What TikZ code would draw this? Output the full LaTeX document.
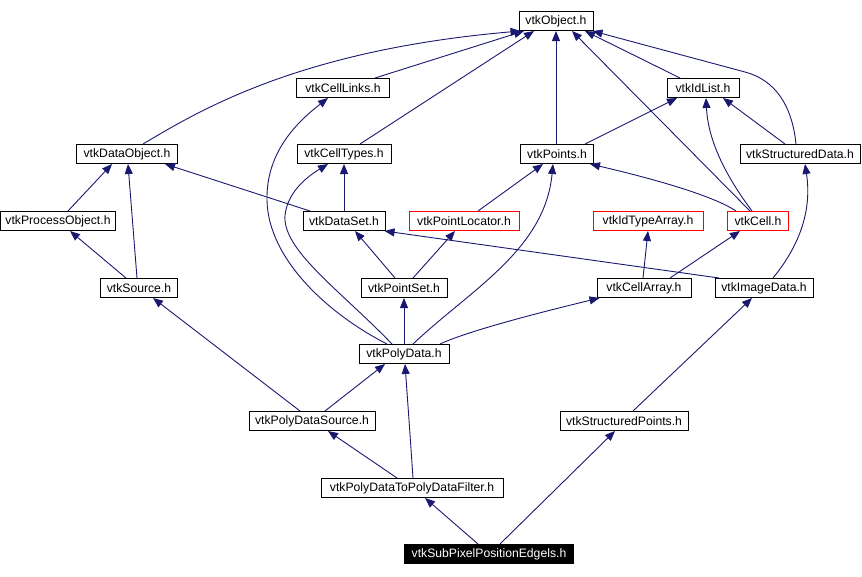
\documentclass[tikz,border=0pt]{standalone}
\usepackage{fontspec}
\setmainfont{Liberation Sans}
\usetikzlibrary{arrows.meta}
\definecolor{edgecol}{HTML}{191970}
\begin{document}
\begin{tikzpicture}[x=1pt,y=-1pt,
  box/.style={draw=black, line width=1pt, minimum height=19pt, inner sep=0pt, font=\fontsize{12.2}{14}\selectfont, anchor=center},
  redbox/.style={box, draw=red},
  dep/.style={draw=edgecol, line width=0.9pt, -{Triangle[length=10pt,width=8pt]}}
]
\useasboundingbox (0,0) rectangle (862,576);
\node[box, minimum width=74pt]  (obj)          at (556,21)  {vtkObject.h};
\node[box, minimum width=93pt]  (celllinks)    at (343,88)  {vtkCellLinks.h};
\node[box, minimum width=72pt]  (idlist)       at (703,88)  {vtkIdList.h};
\node[box, minimum width=101pt] (dataobject)   at (127,154) {vtkDataObject.h};
\node[box, minimum width=94pt]  (celltypes)    at (344,154) {vtkCellTypes.h};
\node[box, minimum width=73pt]  (points)       at (557,154) {vtkPoints.h};
\node[box, minimum width=120pt] (structdata)   at (800,154) {vtkStructuredData.h};
\node[box, minimum width=115pt] (processobject) at (58,221) {vtkProcessObject.h};
\node[box, minimum width=82pt]  (dataset)      at (344,221) {vtkDataSet.h};
\node[redbox, minimum width=110pt] (pointlocator) at (464,221) {vtkPointLocator.h};
\node[redbox, minimum width=110pt] (idtypearray)  at (648,221) {vtkIdTypeArray.h};
\node[redbox, minimum width=61pt]  (cell)         at (758,221) {vtkCell.h};
\node[box, minimum width=77pt]  (source)       at (139,288) {vtkSource.h};
\node[box, minimum width=86pt]  (pointset)     at (404,288) {vtkPointSet.h};
\node[box, minimum width=94pt]  (cellarray)    at (644,288) {vtkCellArray.h};
\node[box, minimum width=98pt]  (imagedata)    at (764,288) {vtkImageData.h};
\node[box, minimum width=90pt]  (polydata)     at (404,354) {vtkPolyData.h};
\node[box, minimum width=126pt] (pdsource)     at (312,421) {vtkPolyDataSource.h};
\node[box, minimum width=128pt] (structpoints) at (624,421) {vtkStructuredPoints.h};
\node[box, minimum width=182pt] (pdtpdf)       at (412,488) {vtkPolyDataToPolyDataFilter.h};
\node[box, minimum width=169pt, fill=black, text=white] (subpixel) at (489,554) {vtkSubPixelPositionEdgels.h};

% edges (child -> parent)
\draw[dep] ([xshift=16pt]dataobject.north) .. controls (200,110) and (300,50) .. ([xshift=2pt]obj.south west);
\draw[dep] ([xshift=32pt]celllinks.north) -- ([xshift=-32pt]obj.south);
\draw[dep] ([xshift=16pt]celltypes.north) -- ([xshift=-22pt]obj.south);
\draw[dep] ([xshift=-1pt]points.north) -- (obj.south);
\draw[dep] ([xshift=-23pt]idlist.north) -- ([xshift=29pt]obj.south);
\draw[dep] ([xshift=-8pt]cell.north) -- ([xshift=16pt]obj.south);
\draw[dep] ([xshift=-4pt]structdata.north) .. controls (792,105) and (775,80) .. (745,72) -- ([xshift=-1pt]obj.south east);
\draw[dep] ([xshift=-15pt]structdata.north) -- ([xshift=20pt]idlist.south);
\draw[dep] ([xshift=-6pt]cell.north) .. controls (725,175) and (708,140) .. ([xshift=3pt]idlist.south);
\draw[dep] ([xshift=28pt]points.north) -- ([xshift=-26pt]idlist.south);
\draw[dep] ([xshift=-22pt]cell.north) .. controls (712,195) and (650,178) .. ([xshift=33pt]points.south);
\draw[dep] ([xshift=10pt]processobject.north) -- ([xshift=-15pt]dataobject.south);
\draw[dep] ([xshift=-2pt]source.north) -- ([xshift=1pt]dataobject.south);
\draw[dep] ([xshift=-13pt]source.north) -- ([xshift=12pt]processobject.south);
\draw[dep] ([xshift=-34pt]dataset.north) -- ([xshift=38pt]dataobject.south);
\draw[dep] (dataset.north) -- (celltypes.south);
\draw[dep] ([xshift=-9pt]pointset.north) -- ([xshift=11pt]dataset.south);
\draw[dep] ([xshift=9pt]pointset.north) -- ([xshift=-9pt]pointlocator.south);
\draw[dep] ([xshift=14pt]pointlocator.north) -- ([xshift=-14pt]points.south);
\draw[dep] ([xshift=-45pt]imagedata.north) -- ([xshift=-1pt]dataset.south east);
\draw[dep] ([xshift=9pt]imagedata.north) .. controls (800,245) and (812,210) .. ([xshift=5pt]structdata.south);
\draw[dep] ([xshift=-1pt]cellarray.north) -- (idtypearray.south);
\draw[dep] ([xshift=26pt]cellarray.north) -- ([xshift=-18pt]cell.south);
\draw[dep] ([xshift=-17pt]polydata.north) .. controls (330,315) and (268,260) .. (267,200) .. controls (266,150) and (300,120) .. ([xshift=-15pt]celllinks.south);
\draw[dep] ([xshift=-12pt]polydata.north) .. controls (340,290) and (282,250) .. (285,215) .. controls (288,190) and (310,175) .. ([xshift=-16pt]celltypes.south);
\draw[dep] (polydata.north) -- (pointset.south);
\draw[dep] ([xshift=9pt]polydata.north) .. controls (470,290) and (545,250) .. ([xshift=-4pt]points.south);
\draw[dep] ([xshift=36pt]polydata.north) .. controls (470,330) and (550,310) .. ([xshift=3pt]cellarray.south west);
\draw[dep] ([xshift=13pt]pdsource.north) -- ([xshift=-19pt]polydata.south);
\draw[dep] ([xshift=-12pt]pdsource.north) -- ([xshift=14pt]source.south);
\draw[dep] ([xshift=-15pt]pdtpdf.north) -- ([xshift=16pt]pdsource.south);
\draw[dep] ([xshift=1pt]pdtpdf.north) .. controls (409,420) .. ([xshift=1pt]polydata.south);
\draw[dep] ([xshift=9pt]structpoints.north) -- ([xshift=-12pt]imagedata.south);
\draw[dep] ([xshift=-11pt]subpixel.north) -- ([xshift=13pt]pdtpdf.south);
\draw[dep] ([xshift=11pt]subpixel.north) -- ([xshift=-9pt]structpoints.south);
\end{tikzpicture}
\end{document}
